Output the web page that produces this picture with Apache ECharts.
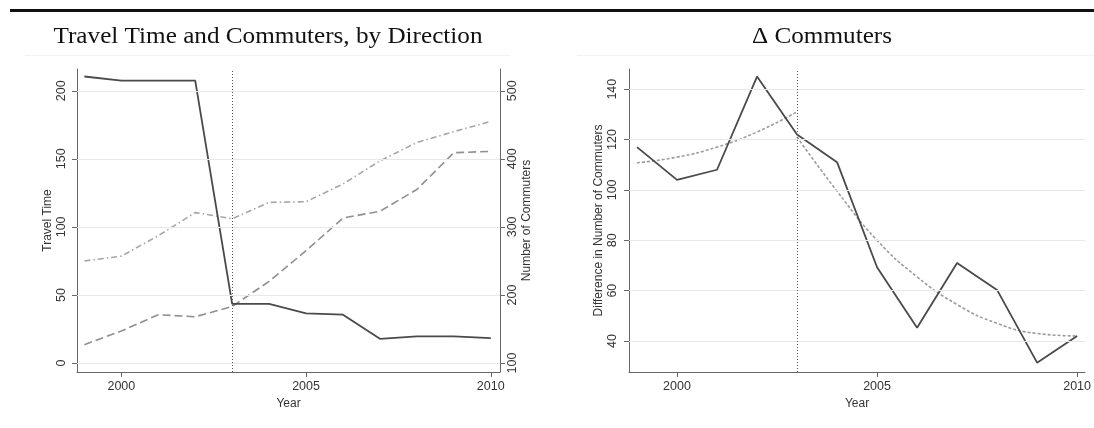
<!DOCTYPE html>
<html>
<head>
<meta charset="utf-8">
<script src="https://cdn.jsdelivr.net/npm/echarts@6/dist/echarts.min.js"></script>
<style>
  html, body { margin: 0; padding: 0; background: #ffffff; }
  #chart { width: 1094px; height: 428px; }
</style>
</head>
<body>
<div id="chart"></div>
<script>
// Years observed
const years = [1999, 2000, 2001, 2002, 2003, 2004, 2005, 2006, 2007, 2008, 2009, 2010];

// Left panel: travel time (left axis) and commuters in each direction (right axis)
const travelTime = [210.5, 207.4, 207.4, 207.4, 43.5, 43.5, 36.5, 35.5, 17.8, 19.6, 19.6, 18.3];
const commutersDirA = [127, 147, 171, 168, 183, 220, 265, 313, 323, 355, 409, 411];
const commutersDirB = [250, 257, 287, 321, 312, 336, 337, 363, 397, 424, 440, 455];

// Right panel: difference in commuters and the fitted curves either side of 2003
const commuterDiff = [117, 104, 108, 145, 122, 111, 69.3, 45.3, 71, 60.3, 31.4, 42];
const fitYearsPre = [1999, 2000, 2001, 2002, 2003];
const fitPre = [110.8, 113, 117, 123, 131];
const fitYearsPost = [2003, 2004, 2005, 2006, 2007, 2008, 2009, 2010];
const fitPost = [121, 99.5, 80, 65.5, 54.5, 47, 43, 42];

// Tick values
const yearTicks = [2000, 2005, 2010];
const travelTicks = [0, 50, 100, 150, 200];
const commuterTicks = [100, 200, 300, 400, 500];
const diffTicks = [40, 60, 80, 100, 120, 140];
const breakYear = 2003;

const pairs = (xs, ys) => xs.map((x, i) => [x, ys[i]]);
const plain = v => String(v);

const SANS = 'Liberation Sans, Arial, sans-serif';
const SERIF = 'Liberation Serif, Times New Roman, serif';
const AXIS_COLOR = '#666666';
const TEXT_COLOR = '#333333';
const GRID_COLOR = '#e8e8e8';

function xAxisFor(gridIndex, max) {
  return {
    type: 'value', gridIndex: gridIndex, min: 1998.8, max: max,
    name: 'Year', nameLocation: 'middle', nameGap: 21,
    nameTextStyle: { fontFamily: SANS, fontSize: 12, color: TEXT_COLOR },
    axisLine: { show: true, onZero: false, lineStyle: { color: AXIS_COLOR, width: 1 } },
    axisTick: { show: true, customValues: yearTicks, length: 5, lineStyle: { color: AXIS_COLOR } },
    axisLabel: { customValues: yearTicks, formatter: plain, fontFamily: SANS, fontSize: 12.5, color: TEXT_COLOR, margin: 8 },
    splitLine: { show: false }
  };
}

function yAxisFor(opts) {
  return {
    type: 'value', gridIndex: opts.grid, min: opts.min, max: opts.max, position: opts.position,
    name: opts.name, nameLocation: 'middle', nameGap: opts.nameGap,
    nameTextStyle: { fontFamily: SANS, fontSize: 12, color: TEXT_COLOR },
    axisLine: { show: true, onZero: false, lineStyle: { color: AXIS_COLOR, width: 1 } },
    axisTick: { show: true, customValues: opts.ticks, length: 5, lineStyle: { color: AXIS_COLOR } },
    axisLabel: { customValues: opts.ticks, formatter: plain, rotate: 90, fontFamily: SANS, fontSize: 12.5, color: TEXT_COLOR, margin: opts.margin },
    splitLine: { show: false }
  };
}

const gridLines = (values) => ({
  silent: true, symbol: ['none', 'none'], animation: false,
  label: { show: false },
  lineStyle: { color: GRID_COLOR, width: 1, type: 'solid' },
  data: values.map(v => ({ yAxis: v }))
});

const breakLine = {
  silent: true, symbol: ['none', 'none'], animation: false,
  label: { show: false },
  lineStyle: { color: '#555555', width: 1, type: [1, 2] },
  data: [{ xAxis: breakYear }]
};

// Panel headings: serif, slightly stretched horizontally
const titleStyle = {
  fontFamily: SERIF, fontSize: 23, fill: '#111111',
  align: 'center', verticalAlign: 'middle'
};

const option = {
  animation: false,
  backgroundColor: '#ffffff',
  grid: [
    { left: 77, right: 594, top: 69, bottom: 56 },
    { left: 629, right: 7, top: 69, bottom: 56 }
  ],
  xAxis: [xAxisFor(0, 2010.25), xAxisFor(1, 2010.2)],
  yAxis: [
    yAxisFor({ grid: 0, min: -6.6, max: 216, position: 'left', name: 'Travel Time', nameGap: 22, ticks: travelTicks, margin: 9 }),
    yAxisFor({ grid: 0, min: 86.8, max: 532, position: 'right', name: 'Number of Commuters', nameGap: 21, ticks: commuterTicks, margin: 6 }),
    yAxisFor({ grid: 1, min: 27.7, max: 148, position: 'left', name: 'Difference in Number of Commuters', nameGap: 24, ticks: diffTicks, margin: 10 })
  ],
  series: [
    {
      type: 'line', xAxisIndex: 0, yAxisIndex: 0, z: 1, data: [],
      markLine: gridLines(travelTicks)
    },
    {
      name: 'Commuters B', type: 'line', xAxisIndex: 0, yAxisIndex: 1, z: 3,
      data: pairs(years, commutersDirB), showSymbol: false,
      lineStyle: { color: '#a6a6a6', width: 1.6, type: [6, 3, 1.5, 3] }
    },
    {
      name: 'Commuters A', type: 'line', xAxisIndex: 0, yAxisIndex: 1, z: 3,
      data: pairs(years, commutersDirA), showSymbol: false,
      lineStyle: { color: '#8f8f8f', width: 1.6, type: [8, 4] }
    },
    {
      name: 'Travel Time', type: 'line', xAxisIndex: 0, yAxisIndex: 0, z: 4,
      data: pairs(years, travelTime), showSymbol: false,
      lineStyle: { color: '#4a4a4a', width: 1.8 },
      markLine: breakLine
    },
    {
      type: 'line', xAxisIndex: 1, yAxisIndex: 2, z: 1, data: [],
      markLine: gridLines(diffTicks)
    },
    {
      name: 'Fit pre', type: 'line', xAxisIndex: 1, yAxisIndex: 2, z: 3,
      data: pairs(fitYearsPre, fitPre), showSymbol: false, smooth: 0.5,
      lineStyle: { color: '#9c9c9c', width: 1.6, type: [3, 2] }
    },
    {
      name: 'Fit post', type: 'line', xAxisIndex: 1, yAxisIndex: 2, z: 3,
      data: pairs(fitYearsPost, fitPost), showSymbol: false, smooth: 0.5,
      lineStyle: { color: '#9c9c9c', width: 1.6, type: [3, 2] }
    },
    {
      name: 'Difference', type: 'line', xAxisIndex: 1, yAxisIndex: 2, z: 4,
      data: pairs(years, commuterDiff), showSymbol: false,
      lineStyle: { color: '#4a4a4a', width: 1.8 },
      markLine: breakLine
    }
  ],
  graphic: [
    { type: 'rect', shape: { x: 10, y: 9, width: 1084, height: 3 }, style: { fill: '#111111' }, silent: true },
    { type: 'rect', shape: { x: 25, y: 55, width: 485, height: 1 }, style: { fill: '#f2f2f2' }, silent: true },
    { type: 'rect', shape: { x: 577, y: 55, width: 517, height: 1 }, style: { fill: '#f2f2f2' }, silent: true },
    { type: 'text', x: 268, y: 37, scaleX: 1.095, style: Object.assign({ text: 'Travel Time and Commuters, by Direction' }, titleStyle), silent: true },
    { type: 'text', x: 822, y: 37, scaleX: 1.095, style: Object.assign({ text: 'Δ Commuters' }, titleStyle), silent: true }
  ]
};

const chart = echarts.init(document.getElementById('chart'), null, { renderer: 'canvas' });
chart.setOption(option);
</script>
</body>
</html>
